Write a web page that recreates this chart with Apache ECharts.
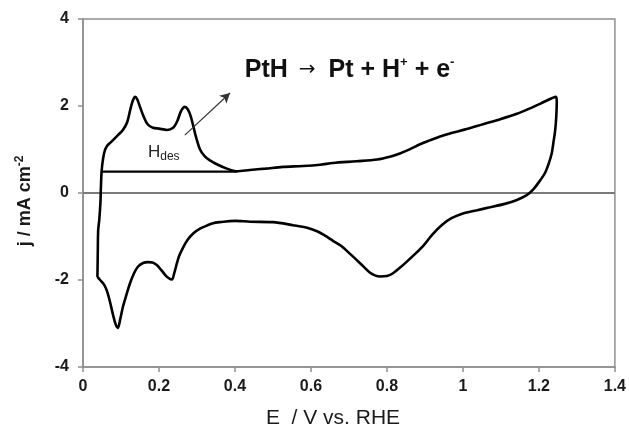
<!DOCTYPE html>
<html>
<head>
<meta charset="utf-8">
<script src="https://cdn.jsdelivr.net/npm/echarts@6/dist/echarts.min.js"></script>
<style>html,body{margin:0;padding:0;background:#fff;}#c{width:629px;height:431px;}</style>
</head>
<body>
<div id="c"></div>
<script>
// CV loop: potential E (V vs RHE) and current density j (mA cm^-2), in scan order
var cvE = [0.038,0.039,0.040,0.043,0.046,0.047,0.049,0.053,0.058,0.065,0.075,0.092,0.105,0.116,0.124,0.131,0.137,0.143,0.150,0.160,0.170,0.184,0.200,0.221,0.237,0.248,0.258,0.268,0.276,0.283,0.290,0.297,0.308,0.320,0.334,0.355,0.379,0.405,0.439,0.480,0.526,0.579,0.624,0.658,0.720,0.774,0.810,0.834,0.861,0.887,0.913,0.940,0.966,1.010,1.053,1.100,1.142,1.175,1.203,1.245,
  1.247,1.246,1.243,1.238,1.234,1.226,1.216,1.200,1.184,1.168,1.142,1.110,1.071,1.035,1.000,0.970,0.947,0.920,0.895,0.868,0.834,0.815,0.800,0.782,0.770,0.755,0.730,0.703,0.680,0.658,0.635,0.616,0.590,0.553,0.500,0.440,0.400,0.360,0.340,0.326,0.308,0.290,0.275,0.263,0.253,0.247,0.240,0.234,0.226,0.216,0.205,0.195,0.183,0.171,0.158,0.145,0.134,0.124,0.114,0.105,0.098,0.092,0.086,0.079,0.071,0.063,0.055,0.045,0.038];
var cvJ = [-1.93,-1.30,-0.85,-0.60,-0.20,0.10,0.50,0.80,0.99,1.10,1.18,1.33,1.45,1.62,1.90,2.12,2.21,2.15,1.98,1.75,1.58,1.50,1.48,1.45,1.50,1.65,1.88,1.98,1.92,1.78,1.55,1.30,1.00,0.85,0.75,0.65,0.56,0.50,0.53,0.56,0.60,0.62,0.65,0.69,0.73,0.77,0.84,0.91,1.01,1.12,1.21,1.30,1.37,1.47,1.58,1.70,1.82,1.94,2.05,2.21,
  2.10,1.80,1.45,1.15,0.92,0.68,0.46,0.25,0.07,-0.05,-0.16,-0.25,-0.33,-0.40,-0.47,-0.58,-0.72,-0.95,-1.22,-1.45,-1.72,-1.85,-1.91,-1.92,-1.90,-1.83,-1.62,-1.40,-1.22,-1.10,-0.97,-0.88,-0.80,-0.74,-0.67,-0.66,-0.64,-0.67,-0.70,-0.75,-0.82,-0.93,-1.08,-1.26,-1.45,-1.62,-1.85,-1.99,-1.96,-1.88,-1.76,-1.66,-1.60,-1.59,-1.61,-1.69,-1.85,-2.07,-2.35,-2.62,-2.90,-3.10,-3.02,-2.80,-2.50,-2.25,-2.10,-2.00,-1.93];
// Hdes integration baseline
var baseE = [0.05, 0.405];
var baseJ = [0.49, 0.49];
// annotation arrow (start, end)
var arrowE = [0.268, 0.387];
var arrowJ = [1.33, 2.30];
// axis ranges / ticks
var xMin = 0, xMax = 1.4, xStep = 0.2;
var yMin = -4, yMax = 4, yStep = 2;

var cvData = cvE.map(function(e, i){ return [e, cvJ[i]]; });
var baseData = baseE.map(function(e, i){ return [e, baseJ[i]]; });

var chart = echarts.init(document.getElementById('c'), null, {renderer:'canvas'});
var axisCol = '#8f8f8f';
var ff = 'Liberation Sans, Arial, sans-serif';
var labelFont = {color:'#1a1a1a', fontFamily:ff, fontWeight:'bold', fontSize:16};
chart.setOption({
  animation:false,
  backgroundColor:'#fff',
  grid:{left:83, right:14, top:19, bottom:64, show:true, borderColor:axisCol, borderWidth:1.5, backgroundColor:'transparent'},
  xAxis:{type:'value', min:xMin, max:xMax, interval:xStep,
    axisLine:{show:true, onZero:false, lineStyle:{color:axisCol, width:1.5}},
    axisTick:{show:true, length:5, lineStyle:{color:axisCol, width:1.5}},
    axisLabel:Object.assign({margin:12, formatter:function(v){return String(Math.round(v*10)/10);}}, labelFont),
    splitLine:{show:false}},
  yAxis:{type:'value', min:yMin, max:yMax, interval:yStep,
    axisLine:{show:true, onZero:false, lineStyle:{color:axisCol, width:1.5}},
    axisTick:{show:true, length:5, lineStyle:{color:axisCol, width:1.5}},
    axisLabel:Object.assign({margin:14}, labelFont),
    splitLine:{show:false}},
  series:[
    {type:'line', data:[[xMin,0],[xMax,0]], symbol:'none', lineStyle:{color:'#7a7a7a', width:2}, silent:true, z:1},
    {type:'line', data:cvData, symbol:'none', smooth:0.3, lineStyle:{color:'#000', width:2.6}, z:3},
    {type:'line', data:baseData, symbol:'none', lineStyle:{color:'#000', width:2.2}, z:3,
      markLine:{silent:true, symbol:['none','arrow'], symbolSize:[8,10], label:{show:false},
        lineStyle:{color:'#333', width:1.2, type:'solid'},
        data:[[{coord:[arrowE[0], arrowJ[0]]},{coord:[arrowE[1], arrowJ[1]]}]]}}
  ]
});

function px(x, y){ return chart.convertToPixel({gridIndex:0}, [x, y]); }
var pTitle = px(0.426, 2.83);
var pH = px(0.171, 0.94);
chart.setOption({
  graphic:[
    {type:'text', x:pTitle[0], y:pTitle[1], z:10, style:{
      text:'{m|PtH }{a|→}{m| Pt + H}{s|+}{m| + e}{s|-}',
      align:'left', verticalAlign:'middle',
      rich:{
        m:{fontFamily:ff, fontWeight:'bold', fontSize:25, fill:'#111', lineHeight:28, verticalAlign:'middle'},
        a:{fontFamily:'DejaVu Sans, sans-serif', fontSize:20, fill:'#111', lineHeight:28, verticalAlign:'middle', padding:[0,6,0,4]},
        s:{fontFamily:ff, fontWeight:'bold', fontSize:13, fill:'#111', lineHeight:28, verticalAlign:'top'}
      }}},
    {type:'text', x:pH[0], y:pH[1], z:10, style:{
      text:'{h|H}{d|des}', align:'left', verticalAlign:'middle',
      rich:{
        h:{fontFamily:ff, fontSize:17, fill:'#222', lineHeight:22, verticalAlign:'middle'},
        d:{fontFamily:ff, fontSize:12, fill:'#222', lineHeight:22, verticalAlign:'bottom'}
      }}},
    {type:'text', x:333, y:418, z:10, style:{
      text:'E  / V vs. RHE', align:'center', verticalAlign:'middle',
      fontFamily:ff, fontSize:21, fill:'#1a1a1a'}},
    {type:'text', x:25, y:201, rotation:Math.PI/2, z:10, style:{
      text:'{a|j / mA cm}{b|-2}', align:'center', verticalAlign:'middle',
      rich:{
        a:{fontFamily:ff, fontWeight:'bold', fontSize:18, fill:'#1a1a1a', lineHeight:22, verticalAlign:'middle'},
        b:{fontFamily:ff, fontWeight:'bold', fontSize:12, fill:'#1a1a1a', lineHeight:22, verticalAlign:'top'}
      }}}
  ]
});
</script>
</body>
</html>
